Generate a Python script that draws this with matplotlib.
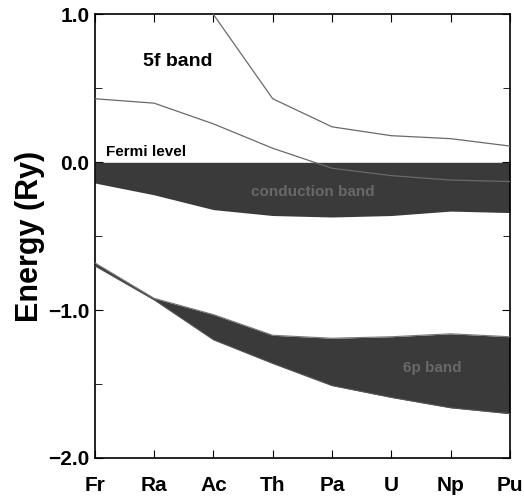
import numpy as np
import matplotlib
matplotlib.use("Agg")
import matplotlib.pyplot as plt

# -------------------------- DATA ----------------------------
elements = ["Fr", "Ra", "Ac", "Th", "Pa", "U", "Np", "Pu"]
f_upper = [np.nan, np.nan, 1.0, 0.43, 0.24, 0.18, 0.16, 0.11]
f_lower = [0.43, 0.40, 0.26, 0.095, -0.04, -0.09, -0.12, -0.13]
cond_top = [0.0, 0.0, 0.0, 0.0, 0.0, 0.0, 0.0, 0.0]
cond_bottom = [-0.14, -0.22, -0.32, -0.36, -0.37, -0.36, -0.33, -0.34]
p_top = [-0.68, -0.92, -1.03, -1.17, -1.19, -1.18, -1.16, -1.18]
p_bottom = [-0.70, -0.93, -1.20, -1.36, -1.51, -1.59, -1.66, -1.70]

# -------------------------- SETTINGS ----------------------------
WIDTH = 5.24
HEIGHT = 5.04
DPI = 100
FONT = ["Liberation Sans", "DejaVu Sans"]

plt.rcParams["font.family"] = FONT
plt.rcParams["font.weight"] = "bold"

fig = plt.figure(figsize=(WIDTH, HEIGHT), dpi=DPI)
ax = fig.add_axes([0.181, 0.0913, 0.792, 0.880])

x = np.arange(len(elements))
band_color = "#3a3a3a"
line_color = "#6a6a6a"

# bands
ax.fill_between(x, cond_bottom, cond_top, color=band_color, lw=0, zorder=2)
ax.fill_between(x, p_bottom, p_top, color=band_color, lw=0, zorder=2)
ax.plot(x, p_top, color="#777777", lw=0.8, zorder=3)
ax.plot(x, p_bottom, color="#555555", lw=0.8, zorder=3)

# 5f lines
ax.plot(x, f_upper, color=line_color, lw=0.9, zorder=4)
ax.plot(x, f_lower, color=line_color, lw=0.9, zorder=4)

# labels inside
ax.text(1.4, 0.68, "5f band", fontsize=14, fontweight="bold", ha="center", va="center")
ax.text(0.18, 0.07, "Fermi level", fontsize=11, fontweight="bold", ha="left", va="center")
ax.text(3.68, -0.2, "conduction band", fontsize=11, color="#686868", ha="center", va="center", zorder=5)
ax.text(5.7, -1.39, "6p band", fontsize=11, color="#686868", ha="center", va="center", zorder=5)

# axes
ax.set_xlim(0, 7)
ax.set_ylim(-2.0, 1.0)
ax.set_xticks(x)
ax.set_xticklabels(elements)
ax.set_yticks([-2.0, -1.0, 0.0, 1.0])
ax.set_yticklabels(["\u22122.0", "\u22121.0", "0.0", "1.0"])
ax.set_yticks([-1.5, -0.5, 0.5], minor=True)
ax.tick_params(axis="both", which="both", direction="in", top=True, right=True)
ax.tick_params(axis="x", which="major", length=6, pad=13, labelsize=15)
ax.tick_params(axis="y", which="major", length=6, pad=4, labelsize=15)
ax.tick_params(axis="y", which="minor", length=5)
ax.set_ylabel("Energy (Ry)", fontsize=22, fontweight="bold", labelpad=2)
for s in ax.spines.values():
    s.set_linewidth(1.2)

fig.savefig("out.png", dpi=DPI)
